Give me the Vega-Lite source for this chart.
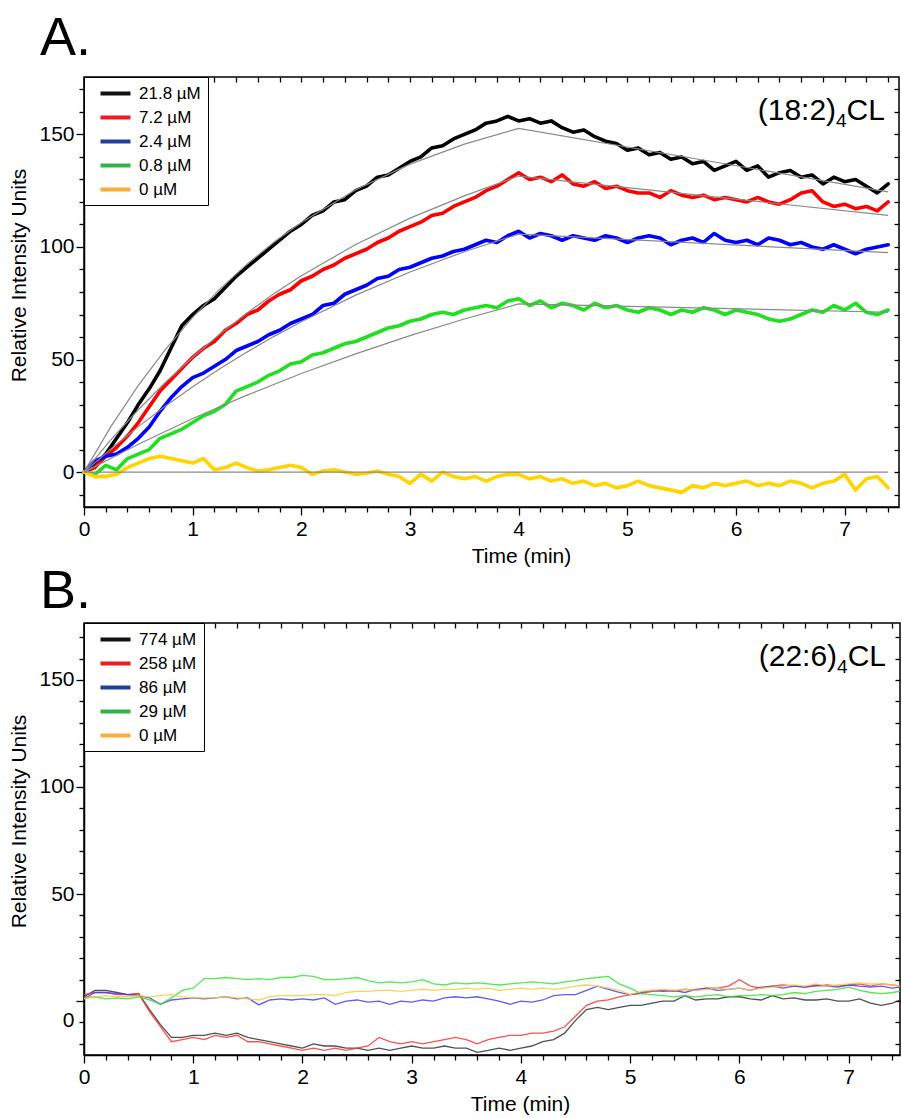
{
"$schema": "https://vega.github.io/schema/vega-lite/v6.json",
"background": "white",
"padding": {"left": 8, "top": 11, "right": 0, "bottom": 0},
"config": {
  "font": "Arial",
  "view": {"stroke": "black", "strokeWidth": 1.5},
  "axis": {"domainColor": "black", "domainWidth": 1.5, "tickColor": "black", "tickWidth": 1.3, "labelColor": "black", "labelFont": "Arial", "labelFontSize": 21, "titleFont": "Arial", "titleFontSize": 21, "titleFontWeight": "normal", "titleColor": "black", "grid": false, "labelOverlap": false, "labelFlush": false, "labelBound": false},
  "title": {"font": "Arial", "fontSize": 54, "fontWeight": "normal", "color": "black", "anchor": "start", "frame": "group", "dx": -44, "offset": 10}
},
"datasets": {
"a": [
{"s":"21.8","t":0,"v":0},{"s":"21.8","t":0.1,"v":3},{"s":"21.8","t":0.2,"v":8},{"s":"21.8","t":0.3,"v":15},{"s":"21.8","t":0.4,"v":22},{"s":"21.8","t":0.5,"v":30},{"s":"21.8","t":0.6,"v":37},{"s":"21.8","t":0.7,"v":45},{"s":"21.8","t":0.8,"v":55},{"s":"21.8","t":0.9,"v":65},
{"s":"21.8","t":1,"v":70},{"s":"21.8","t":1.1,"v":74},{"s":"21.8","t":1.2,"v":77},{"s":"21.8","t":1.3,"v":82},{"s":"21.8","t":1.4,"v":87},{"s":"21.8","t":1.5,"v":91},{"s":"21.8","t":1.6,"v":95},{"s":"21.8","t":1.7,"v":99},{"s":"21.8","t":1.8,"v":103},{"s":"21.8","t":1.9,"v":107},
{"s":"21.8","t":2,"v":110},{"s":"21.8","t":2.1,"v":114},{"s":"21.8","t":2.2,"v":116},{"s":"21.8","t":2.3,"v":120},{"s":"21.8","t":2.4,"v":121},{"s":"21.8","t":2.5,"v":125},{"s":"21.8","t":2.6,"v":127},{"s":"21.8","t":2.7,"v":131},{"s":"21.8","t":2.8,"v":132},{"s":"21.8","t":2.9,"v":135},
{"s":"21.8","t":3,"v":138},{"s":"21.8","t":3.1,"v":140},{"s":"21.8","t":3.2,"v":144},{"s":"21.8","t":3.3,"v":145},{"s":"21.8","t":3.4,"v":148},{"s":"21.8","t":3.5,"v":150},{"s":"21.8","t":3.6,"v":152},{"s":"21.8","t":3.7,"v":155},{"s":"21.8","t":3.8,"v":156},{"s":"21.8","t":3.9,"v":158},
{"s":"21.8","t":4,"v":156},{"s":"21.8","t":4.1,"v":157},{"s":"21.8","t":4.2,"v":155},{"s":"21.8","t":4.3,"v":156},{"s":"21.8","t":4.4,"v":153},{"s":"21.8","t":4.5,"v":151},{"s":"21.8","t":4.6,"v":152},{"s":"21.8","t":4.7,"v":149},{"s":"21.8","t":4.8,"v":147},{"s":"21.8","t":4.9,"v":146},
{"s":"21.8","t":5,"v":143},{"s":"21.8","t":5.1,"v":144},{"s":"21.8","t":5.2,"v":141},{"s":"21.8","t":5.3,"v":142},{"s":"21.8","t":5.4,"v":139},{"s":"21.8","t":5.5,"v":140},{"s":"21.8","t":5.6,"v":137},{"s":"21.8","t":5.7,"v":138},{"s":"21.8","t":5.8,"v":134},{"s":"21.8","t":5.9,"v":136},
{"s":"21.8","t":6,"v":138},{"s":"21.8","t":6.1,"v":134},{"s":"21.8","t":6.2,"v":136},{"s":"21.8","t":6.3,"v":131},{"s":"21.8","t":6.4,"v":133},{"s":"21.8","t":6.5,"v":134},{"s":"21.8","t":6.6,"v":131},{"s":"21.8","t":6.7,"v":132},{"s":"21.8","t":6.8,"v":128},{"s":"21.8","t":6.9,"v":131},
{"s":"21.8","t":7,"v":129},{"s":"21.8","t":7.1,"v":130},{"s":"21.8","t":7.2,"v":127},{"s":"21.8","t":7.3,"v":124},{"s":"21.8","t":7.4,"v":128},
{"s":"7.2","t":0,"v":0},{"s":"7.2","t":0.1,"v":2},{"s":"7.2","t":0.2,"v":7},{"s":"7.2","t":0.3,"v":11},{"s":"7.2","t":0.4,"v":16},{"s":"7.2","t":0.5,"v":22},{"s":"7.2","t":0.6,"v":29},{"s":"7.2","t":0.7,"v":36},{"s":"7.2","t":0.8,"v":41},{"s":"7.2","t":0.9,"v":46},
{"s":"7.2","t":1,"v":51},{"s":"7.2","t":1.1,"v":55},{"s":"7.2","t":1.2,"v":58},{"s":"7.2","t":1.3,"v":63},{"s":"7.2","t":1.4,"v":66},{"s":"7.2","t":1.5,"v":70},{"s":"7.2","t":1.6,"v":72},{"s":"7.2","t":1.7,"v":76},{"s":"7.2","t":1.8,"v":79},{"s":"7.2","t":1.9,"v":81},
{"s":"7.2","t":2,"v":85},{"s":"7.2","t":2.1,"v":87},{"s":"7.2","t":2.2,"v":90},{"s":"7.2","t":2.3,"v":92},{"s":"7.2","t":2.4,"v":95},{"s":"7.2","t":2.5,"v":97},{"s":"7.2","t":2.6,"v":99},{"s":"7.2","t":2.7,"v":102},{"s":"7.2","t":2.8,"v":104},{"s":"7.2","t":2.9,"v":107},
{"s":"7.2","t":3,"v":109},{"s":"7.2","t":3.1,"v":111},{"s":"7.2","t":3.2,"v":114},{"s":"7.2","t":3.3,"v":115},{"s":"7.2","t":3.4,"v":118},{"s":"7.2","t":3.5,"v":120},{"s":"7.2","t":3.6,"v":122},{"s":"7.2","t":3.7,"v":125},{"s":"7.2","t":3.8,"v":127},{"s":"7.2","t":3.9,"v":130},
{"s":"7.2","t":4,"v":133},{"s":"7.2","t":4.1,"v":130},{"s":"7.2","t":4.2,"v":131},{"s":"7.2","t":4.3,"v":129},{"s":"7.2","t":4.4,"v":132},{"s":"7.2","t":4.5,"v":128},{"s":"7.2","t":4.6,"v":127},{"s":"7.2","t":4.7,"v":129},{"s":"7.2","t":4.8,"v":126},{"s":"7.2","t":4.9,"v":127},
{"s":"7.2","t":5,"v":125},{"s":"7.2","t":5.1,"v":124},{"s":"7.2","t":5.2,"v":124},{"s":"7.2","t":5.3,"v":122},{"s":"7.2","t":5.4,"v":125},{"s":"7.2","t":5.5,"v":123},{"s":"7.2","t":5.6,"v":122},{"s":"7.2","t":5.7,"v":123},{"s":"7.2","t":5.8,"v":121},{"s":"7.2","t":5.9,"v":122},
{"s":"7.2","t":6,"v":121},{"s":"7.2","t":6.1,"v":120},{"s":"7.2","t":6.2,"v":122},{"s":"7.2","t":6.3,"v":120},{"s":"7.2","t":6.4,"v":119},{"s":"7.2","t":6.5,"v":121},{"s":"7.2","t":6.6,"v":124},{"s":"7.2","t":6.7,"v":125},{"s":"7.2","t":6.8,"v":120},{"s":"7.2","t":6.9,"v":118},
{"s":"7.2","t":7,"v":119},{"s":"7.2","t":7.1,"v":117},{"s":"7.2","t":7.2,"v":118},{"s":"7.2","t":7.3,"v":116},{"s":"7.2","t":7.4,"v":120},
{"s":"2.4","t":0,"v":0},{"s":"2.4","t":0.1,"v":5},{"s":"2.4","t":0.2,"v":7},{"s":"2.4","t":0.3,"v":8},{"s":"2.4","t":0.4,"v":11},{"s":"2.4","t":0.5,"v":15},{"s":"2.4","t":0.6,"v":20},{"s":"2.4","t":0.7,"v":27},{"s":"2.4","t":0.8,"v":33},{"s":"2.4","t":0.9,"v":38},
{"s":"2.4","t":1,"v":42},{"s":"2.4","t":1.1,"v":44},{"s":"2.4","t":1.2,"v":47},{"s":"2.4","t":1.3,"v":50},{"s":"2.4","t":1.4,"v":54},{"s":"2.4","t":1.5,"v":56},{"s":"2.4","t":1.6,"v":58},{"s":"2.4","t":1.7,"v":61},{"s":"2.4","t":1.8,"v":63},{"s":"2.4","t":1.9,"v":66},
{"s":"2.4","t":2,"v":68},{"s":"2.4","t":2.1,"v":70},{"s":"2.4","t":2.2,"v":74},{"s":"2.4","t":2.3,"v":75},{"s":"2.4","t":2.4,"v":79},{"s":"2.4","t":2.5,"v":81},{"s":"2.4","t":2.6,"v":83},{"s":"2.4","t":2.7,"v":86},{"s":"2.4","t":2.8,"v":87},{"s":"2.4","t":2.9,"v":90},
{"s":"2.4","t":3,"v":91},{"s":"2.4","t":3.1,"v":93},{"s":"2.4","t":3.2,"v":95},{"s":"2.4","t":3.3,"v":96},{"s":"2.4","t":3.4,"v":98},{"s":"2.4","t":3.5,"v":99},{"s":"2.4","t":3.6,"v":101},{"s":"2.4","t":3.7,"v":103},{"s":"2.4","t":3.8,"v":102},{"s":"2.4","t":3.9,"v":105},
{"s":"2.4","t":4,"v":107},{"s":"2.4","t":4.1,"v":104},{"s":"2.4","t":4.2,"v":106},{"s":"2.4","t":4.3,"v":105},{"s":"2.4","t":4.4,"v":103},{"s":"2.4","t":4.5,"v":105},{"s":"2.4","t":4.6,"v":104},{"s":"2.4","t":4.7,"v":103},{"s":"2.4","t":4.8,"v":105},{"s":"2.4","t":4.9,"v":104},
{"s":"2.4","t":5,"v":102},{"s":"2.4","t":5.1,"v":104},{"s":"2.4","t":5.2,"v":105},{"s":"2.4","t":5.3,"v":104},{"s":"2.4","t":5.4,"v":101},{"s":"2.4","t":5.5,"v":103},{"s":"2.4","t":5.6,"v":104},{"s":"2.4","t":5.7,"v":102},{"s":"2.4","t":5.8,"v":106},{"s":"2.4","t":5.9,"v":103},
{"s":"2.4","t":6,"v":102},{"s":"2.4","t":6.1,"v":103},{"s":"2.4","t":6.2,"v":101},{"s":"2.4","t":6.3,"v":104},{"s":"2.4","t":6.4,"v":103},{"s":"2.4","t":6.5,"v":101},{"s":"2.4","t":6.6,"v":102},{"s":"2.4","t":6.7,"v":100},{"s":"2.4","t":6.8,"v":99},{"s":"2.4","t":6.9,"v":101},
{"s":"2.4","t":7,"v":99},{"s":"2.4","t":7.1,"v":97},{"s":"2.4","t":7.2,"v":99},{"s":"2.4","t":7.3,"v":100},{"s":"2.4","t":7.4,"v":101},
{"s":"0.8","t":0,"v":0},{"s":"0.8","t":0.1,"v":-1},{"s":"0.8","t":0.2,"v":3},{"s":"0.8","t":0.3,"v":1},{"s":"0.8","t":0.4,"v":6},{"s":"0.8","t":0.5,"v":8},{"s":"0.8","t":0.6,"v":10},{"s":"0.8","t":0.7,"v":15},{"s":"0.8","t":0.8,"v":17},{"s":"0.8","t":0.9,"v":19},
{"s":"0.8","t":1,"v":22},{"s":"0.8","t":1.1,"v":25},{"s":"0.8","t":1.2,"v":27},{"s":"0.8","t":1.3,"v":30},{"s":"0.8","t":1.4,"v":36},{"s":"0.8","t":1.5,"v":38},{"s":"0.8","t":1.6,"v":40},{"s":"0.8","t":1.7,"v":43},{"s":"0.8","t":1.8,"v":45},{"s":"0.8","t":1.9,"v":48},
{"s":"0.8","t":2,"v":49},{"s":"0.8","t":2.1,"v":52},{"s":"0.8","t":2.2,"v":53},{"s":"0.8","t":2.3,"v":55},{"s":"0.8","t":2.4,"v":57},{"s":"0.8","t":2.5,"v":58},{"s":"0.8","t":2.6,"v":60},{"s":"0.8","t":2.7,"v":62},{"s":"0.8","t":2.8,"v":64},{"s":"0.8","t":2.9,"v":65},
{"s":"0.8","t":3,"v":67},{"s":"0.8","t":3.1,"v":68},{"s":"0.8","t":3.2,"v":70},{"s":"0.8","t":3.3,"v":71},{"s":"0.8","t":3.4,"v":70},{"s":"0.8","t":3.5,"v":72},{"s":"0.8","t":3.6,"v":73},{"s":"0.8","t":3.7,"v":74},{"s":"0.8","t":3.8,"v":73},{"s":"0.8","t":3.9,"v":76},
{"s":"0.8","t":4,"v":77},{"s":"0.8","t":4.1,"v":74},{"s":"0.8","t":4.2,"v":76},{"s":"0.8","t":4.3,"v":73},{"s":"0.8","t":4.4,"v":75},{"s":"0.8","t":4.5,"v":74},{"s":"0.8","t":4.6,"v":72},{"s":"0.8","t":4.7,"v":75},{"s":"0.8","t":4.8,"v":73},{"s":"0.8","t":4.9,"v":74},
{"s":"0.8","t":5,"v":72},{"s":"0.8","t":5.1,"v":71},{"s":"0.8","t":5.2,"v":73},{"s":"0.8","t":5.3,"v":72},{"s":"0.8","t":5.4,"v":70},{"s":"0.8","t":5.5,"v":72},{"s":"0.8","t":5.6,"v":71},{"s":"0.8","t":5.7,"v":73},{"s":"0.8","t":5.8,"v":72},{"s":"0.8","t":5.9,"v":70},
{"s":"0.8","t":6,"v":72},{"s":"0.8","t":6.1,"v":71},{"s":"0.8","t":6.2,"v":70},{"s":"0.8","t":6.3,"v":68},{"s":"0.8","t":6.4,"v":67},{"s":"0.8","t":6.5,"v":68},{"s":"0.8","t":6.6,"v":70},{"s":"0.8","t":6.7,"v":72},{"s":"0.8","t":6.8,"v":71},{"s":"0.8","t":6.9,"v":74},
{"s":"0.8","t":7,"v":72},{"s":"0.8","t":7.1,"v":75},{"s":"0.8","t":7.2,"v":71},{"s":"0.8","t":7.3,"v":70},{"s":"0.8","t":7.4,"v":72},
{"s":"0","t":0,"v":0},{"s":"0","t":0.1,"v":-2},{"s":"0","t":0.2,"v":-2},{"s":"0","t":0.3,"v":-1},{"s":"0","t":0.4,"v":2},{"s":"0","t":0.5,"v":4},{"s":"0","t":0.6,"v":6},{"s":"0","t":0.7,"v":7},{"s":"0","t":0.8,"v":6},{"s":"0","t":0.9,"v":5},
{"s":"0","t":1,"v":4},{"s":"0","t":1.1,"v":6},{"s":"0","t":1.2,"v":1},{"s":"0","t":1.3,"v":2},{"s":"0","t":1.4,"v":4},{"s":"0","t":1.5,"v":2},{"s":"0","t":1.6,"v":0.5},{"s":"0","t":1.7,"v":1},{"s":"0","t":1.8,"v":2},{"s":"0","t":1.9,"v":3},
{"s":"0","t":2,"v":2},{"s":"0","t":2.1,"v":-1},{"s":"0","t":2.2,"v":0.5},{"s":"0","t":2.3,"v":1},{"s":"0","t":2.4,"v":0},{"s":"0","t":2.5,"v":-1},{"s":"0","t":2.6,"v":-0.5},{"s":"0","t":2.7,"v":0.5},{"s":"0","t":2.8,"v":-1},{"s":"0","t":2.9,"v":-2},
{"s":"0","t":3,"v":-5},{"s":"0","t":3.1,"v":-1},{"s":"0","t":3.2,"v":-4},{"s":"0","t":3.3,"v":0},{"s":"0","t":3.4,"v":-2},{"s":"0","t":3.5,"v":-3},{"s":"0","t":3.6,"v":-2},{"s":"0","t":3.7,"v":-4},{"s":"0","t":3.8,"v":-2},{"s":"0","t":3.9,"v":-1},
{"s":"0","t":4,"v":-1},{"s":"0","t":4.1,"v":-3},{"s":"0","t":4.2,"v":-2},{"s":"0","t":4.3,"v":-4},{"s":"0","t":4.4,"v":-3},{"s":"0","t":4.5,"v":-5},{"s":"0","t":4.6,"v":-4},{"s":"0","t":4.7,"v":-6},{"s":"0","t":4.8,"v":-5},{"s":"0","t":4.9,"v":-7},
{"s":"0","t":5,"v":-6},{"s":"0","t":5.1,"v":-4},{"s":"0","t":5.2,"v":-6},{"s":"0","t":5.3,"v":-7},{"s":"0","t":5.4,"v":-8},{"s":"0","t":5.5,"v":-9},{"s":"0","t":5.6,"v":-6},{"s":"0","t":5.7,"v":-7},{"s":"0","t":5.8,"v":-5},{"s":"0","t":5.9,"v":-6},
{"s":"0","t":6,"v":-5},{"s":"0","t":6.1,"v":-4},{"s":"0","t":6.2,"v":-6},{"s":"0","t":6.3,"v":-5},{"s":"0","t":6.4,"v":-6},{"s":"0","t":6.5,"v":-4},{"s":"0","t":6.6,"v":-5},{"s":"0","t":6.7,"v":-7},{"s":"0","t":6.8,"v":-5},{"s":"0","t":6.9,"v":-4},
{"s":"0","t":7,"v":-1},{"s":"0","t":7.1,"v":-8},{"s":"0","t":7.2,"v":-3},{"s":"0","t":7.3,"v":-2},{"s":"0","t":7.4,"v":-7}
],
"af": [
{"s":"21.8","t":0,"v":0},{"s":"21.8","t":0.25,"v":20.4},{"s":"21.8","t":0.5,"v":38.5},{"s":"21.8","t":0.75,"v":54.5},{"s":"21.8","t":1,"v":68.7},{"s":"21.8","t":1.25,"v":81.3},{"s":"21.8","t":1.5,"v":92.4},{"s":"21.8","t":1.75,"v":102.2},{"s":"21.8","t":2,"v":110.9},{"s":"21.8","t":2.5,"v":125.4},{"s":"21.8","t":3,"v":136.8},{"s":"21.8","t":3.5,"v":145.7},{"s":"21.8","t":4,"v":152.7},{"s":"21.8","t":7.4,"v":124.5},
{"s":"7.2","t":0,"v":0},{"s":"7.2","t":0.25,"v":14.5},{"s":"7.2","t":0.5,"v":27.7},{"s":"7.2","t":0.75,"v":39.9},{"s":"7.2","t":1,"v":51},{"s":"7.2","t":1.25,"v":61.3},{"s":"7.2","t":1.5,"v":70.7},{"s":"7.2","t":1.75,"v":79.3},{"s":"7.2","t":2,"v":87.2},{"s":"7.2","t":2.5,"v":101.1},{"s":"7.2","t":3,"v":112.8},{"s":"7.2","t":3.5,"v":122.7},{"s":"7.2","t":4,"v":131.5},{"s":"7.2","t":7.4,"v":114},
{"s":"2.4","t":0,"v":0},{"s":"2.4","t":0.25,"v":10.4},{"s":"2.4","t":0.5,"v":20.2},{"s":"2.4","t":0.75,"v":29.4},{"s":"2.4","t":1,"v":37.9},{"s":"2.4","t":1.25,"v":45.9},{"s":"2.4","t":1.5,"v":53.3},{"s":"2.4","t":1.75,"v":60.3},{"s":"2.4","t":2,"v":66.8},{"s":"2.4","t":2.5,"v":78.6},{"s":"2.4","t":3,"v":88.9},{"s":"2.4","t":3.5,"v":97.9},{"s":"2.4","t":4,"v":105.7},{"s":"2.4","t":7.4,"v":97.5},
{"s":"0.8","t":0,"v":0},{"s":"0.8","t":0.5,"v":12.4},{"s":"0.8","t":1,"v":23.8},{"s":"0.8","t":1.5,"v":34.2},{"s":"0.8","t":2,"v":43.8},{"s":"0.8","t":2.5,"v":52.5},{"s":"0.8","t":3,"v":60.6},{"s":"0.8","t":3.5,"v":68},{"s":"0.8","t":4,"v":74.7},{"s":"0.8","t":7.4,"v":71},
{"s":"zero","t":0,"v":0},{"s":"zero","t":7.4,"v":0}
],
"b": [
{"s":"774","t":0,"v":2},{"s":"774","t":0.1,"v":5},{"s":"774","t":0.2,"v":5},{"s":"774","t":0.3,"v":4},{"s":"774","t":0.4,"v":3},{"s":"774","t":0.5,"v":3.5},{"s":"774","t":0.6,"v":-4},{"s":"774","t":0.7,"v":-11},{"s":"774","t":0.8,"v":-17},{"s":"774","t":0.9,"v":-17},
{"s":"774","t":1,"v":-16},{"s":"774","t":1.1,"v":-16},{"s":"774","t":1.2,"v":-15},{"s":"774","t":1.3,"v":-16},{"s":"774","t":1.4,"v":-15},{"s":"774","t":1.5,"v":-17},{"s":"774","t":1.6,"v":-18},{"s":"774","t":1.7,"v":-19},{"s":"774","t":1.8,"v":-20},{"s":"774","t":1.9,"v":-21},
{"s":"774","t":2,"v":-22},{"s":"774","t":2.1,"v":-20},{"s":"774","t":2.2,"v":-21},{"s":"774","t":2.3,"v":-21},{"s":"774","t":2.4,"v":-22},{"s":"774","t":2.5,"v":-22},{"s":"774","t":2.6,"v":-23},{"s":"774","t":2.7,"v":-22},{"s":"774","t":2.8,"v":-23},{"s":"774","t":2.9,"v":-22},
{"s":"774","t":3,"v":-21},{"s":"774","t":3.1,"v":-22},{"s":"774","t":3.2,"v":-22},{"s":"774","t":3.3,"v":-21},{"s":"774","t":3.4,"v":-22},{"s":"774","t":3.5,"v":-22},{"s":"774","t":3.6,"v":-24},{"s":"774","t":3.7,"v":-23},{"s":"774","t":3.8,"v":-22},{"s":"774","t":3.9,"v":-23},
{"s":"774","t":4,"v":-22},{"s":"774","t":4.1,"v":-21},{"s":"774","t":4.2,"v":-19},{"s":"774","t":4.3,"v":-18},{"s":"774","t":4.4,"v":-15},{"s":"774","t":4.5,"v":-9},{"s":"774","t":4.6,"v":-4},{"s":"774","t":4.7,"v":-3},{"s":"774","t":4.8,"v":-4},{"s":"774","t":4.9,"v":-3},
{"s":"774","t":5,"v":-2},{"s":"774","t":5.1,"v":-2},{"s":"774","t":5.2,"v":-1},{"s":"774","t":5.3,"v":0},{"s":"774","t":5.4,"v":0},{"s":"774","t":5.5,"v":2.5},{"s":"774","t":5.6,"v":0.5},{"s":"774","t":5.7,"v":1},{"s":"774","t":5.8,"v":1},{"s":"774","t":5.9,"v":2},
{"s":"774","t":6,"v":2},{"s":"774","t":6.1,"v":1},{"s":"774","t":6.2,"v":0.5},{"s":"774","t":6.3,"v":2.5},{"s":"774","t":6.4,"v":1},{"s":"774","t":6.5,"v":1.5},{"s":"774","t":6.6,"v":0.5},{"s":"774","t":6.7,"v":0.5},{"s":"774","t":6.8,"v":1},{"s":"774","t":6.9,"v":0},
{"s":"774","t":7,"v":0},{"s":"774","t":7.1,"v":1},{"s":"774","t":7.2,"v":-1},{"s":"774","t":7.3,"v":-2},{"s":"774","t":7.4,"v":-1},{"s":"774","t":7.47,"v":0.5},
{"s":"258","t":0,"v":3},{"s":"258","t":0.1,"v":4},{"s":"258","t":0.2,"v":4},{"s":"258","t":0.3,"v":3},{"s":"258","t":0.4,"v":3},{"s":"258","t":0.5,"v":3.5},{"s":"258","t":0.6,"v":-5},{"s":"258","t":0.7,"v":-12},{"s":"258","t":0.8,"v":-19},{"s":"258","t":0.9,"v":-18},
{"s":"258","t":1,"v":-17},{"s":"258","t":1.1,"v":-18},{"s":"258","t":1.2,"v":-16},{"s":"258","t":1.3,"v":-17},{"s":"258","t":1.4,"v":-16},{"s":"258","t":1.5,"v":-19},{"s":"258","t":1.6,"v":-19},{"s":"258","t":1.7,"v":-20},{"s":"258","t":1.8,"v":-21},{"s":"258","t":1.9,"v":-22},
{"s":"258","t":2,"v":-23},{"s":"258","t":2.1,"v":-22},{"s":"258","t":2.2,"v":-23},{"s":"258","t":2.3,"v":-22},{"s":"258","t":2.4,"v":-23},{"s":"258","t":2.5,"v":-22},{"s":"258","t":2.6,"v":-21},{"s":"258","t":2.7,"v":-17},{"s":"258","t":2.8,"v":-19},{"s":"258","t":2.9,"v":-20},
{"s":"258","t":3,"v":-19},{"s":"258","t":3.1,"v":-20},{"s":"258","t":3.2,"v":-19},{"s":"258","t":3.3,"v":-18},{"s":"258","t":3.4,"v":-17},{"s":"258","t":3.5,"v":-18},{"s":"258","t":3.6,"v":-20},{"s":"258","t":3.7,"v":-18},{"s":"258","t":3.8,"v":-17},{"s":"258","t":3.9,"v":-16},
{"s":"258","t":4,"v":-16},{"s":"258","t":4.1,"v":-15},{"s":"258","t":4.2,"v":-15},{"s":"258","t":4.3,"v":-14},{"s":"258","t":4.4,"v":-12},{"s":"258","t":4.5,"v":-7},{"s":"258","t":4.6,"v":-2},{"s":"258","t":4.7,"v":0},{"s":"258","t":4.8,"v":0.5},{"s":"258","t":4.9,"v":2},
{"s":"258","t":5,"v":3},{"s":"258","t":5.1,"v":3.5},{"s":"258","t":5.2,"v":4.5},{"s":"258","t":5.3,"v":5},{"s":"258","t":5.4,"v":4.5},{"s":"258","t":5.5,"v":5.5},{"s":"258","t":5.6,"v":5},{"s":"258","t":5.7,"v":6},{"s":"258","t":5.8,"v":6},{"s":"258","t":5.9,"v":7},
{"s":"258","t":6,"v":10},{"s":"258","t":6.1,"v":7},{"s":"258","t":6.2,"v":6},{"s":"258","t":6.3,"v":7},{"s":"258","t":6.4,"v":7.5},{"s":"258","t":6.5,"v":7},{"s":"258","t":6.6,"v":6.5},{"s":"258","t":6.7,"v":7},{"s":"258","t":6.8,"v":7.5},{"s":"258","t":6.9,"v":7},
{"s":"258","t":7,"v":7.5},{"s":"258","t":7.1,"v":8},{"s":"258","t":7.2,"v":7},{"s":"258","t":7.3,"v":8},{"s":"258","t":7.4,"v":7.5},{"s":"258","t":7.47,"v":7},
{"s":"86","t":0,"v":1},{"s":"86","t":0.1,"v":4},{"s":"86","t":0.2,"v":4},{"s":"86","t":0.3,"v":3.5},{"s":"86","t":0.4,"v":3},{"s":"86","t":0.5,"v":2.5},{"s":"86","t":0.6,"v":1.5},{"s":"86","t":0.7,"v":-1.5},{"s":"86","t":0.8,"v":0.5},{"s":"86","t":0.9,"v":1},
{"s":"86","t":1,"v":1.5},{"s":"86","t":1.1,"v":1},{"s":"86","t":1.2,"v":1.5},{"s":"86","t":1.3,"v":2},{"s":"86","t":1.4,"v":1},{"s":"86","t":1.5,"v":1.5},{"s":"86","t":1.6,"v":-1.8},{"s":"86","t":1.7,"v":0.5},{"s":"86","t":1.8,"v":1},{"s":"86","t":1.9,"v":0.5},
{"s":"86","t":2,"v":1},{"s":"86","t":2.1,"v":0.5},{"s":"86","t":2.2,"v":1.5},{"s":"86","t":2.3,"v":-1.5},{"s":"86","t":2.4,"v":0},{"s":"86","t":2.5,"v":0.5},{"s":"86","t":2.6,"v":-0.5},{"s":"86","t":2.7,"v":0},{"s":"86","t":2.8,"v":-1.5},{"s":"86","t":2.9,"v":0},
{"s":"86","t":3,"v":-0.5},{"s":"86","t":3.1,"v":0.5},{"s":"86","t":3.2,"v":0},{"s":"86","t":3.3,"v":1.5},{"s":"86","t":3.4,"v":2},{"s":"86","t":3.5,"v":1.5},{"s":"86","t":3.6,"v":2},{"s":"86","t":3.7,"v":1},{"s":"86","t":3.8,"v":0},{"s":"86","t":3.9,"v":-1.5},
{"s":"86","t":4,"v":0},{"s":"86","t":4.1,"v":-0.5},{"s":"86","t":4.2,"v":0.5},{"s":"86","t":4.3,"v":2.5},{"s":"86","t":4.4,"v":3},{"s":"86","t":4.5,"v":3},{"s":"86","t":4.6,"v":5},{"s":"86","t":4.7,"v":7},{"s":"86","t":4.8,"v":5.5},{"s":"86","t":4.9,"v":4},
{"s":"86","t":5,"v":3},{"s":"86","t":5.1,"v":4},{"s":"86","t":5.2,"v":5},{"s":"86","t":5.3,"v":4.5},{"s":"86","t":5.4,"v":5},{"s":"86","t":5.5,"v":4},{"s":"86","t":5.6,"v":5.5},{"s":"86","t":5.7,"v":6},{"s":"86","t":5.8,"v":5},{"s":"86","t":5.9,"v":5.5},
{"s":"86","t":6,"v":6},{"s":"86","t":6.1,"v":5},{"s":"86","t":6.2,"v":6.5},{"s":"86","t":6.3,"v":7},{"s":"86","t":6.4,"v":6},{"s":"86","t":6.5,"v":7},{"s":"86","t":6.6,"v":6.5},{"s":"86","t":6.7,"v":7.5},{"s":"86","t":6.8,"v":7},{"s":"86","t":6.9,"v":6.5},
{"s":"86","t":7,"v":7.5},{"s":"86","t":7.1,"v":7},{"s":"86","t":7.2,"v":6.5},{"s":"86","t":7.3,"v":7},{"s":"86","t":7.4,"v":6},{"s":"86","t":7.47,"v":6.5},
{"s":"29","t":0,"v":1.5},{"s":"29","t":0.1,"v":2},{"s":"29","t":0.2,"v":1},{"s":"29","t":0.3,"v":1.5},{"s":"29","t":0.4,"v":1},{"s":"29","t":0.5,"v":2},{"s":"29","t":0.6,"v":0.5},{"s":"29","t":0.7,"v":-1.5},{"s":"29","t":0.8,"v":1.5},{"s":"29","t":0.9,"v":5},
{"s":"29","t":1,"v":6},{"s":"29","t":1.1,"v":10.5},{"s":"29","t":1.2,"v":10.5},{"s":"29","t":1.3,"v":11},{"s":"29","t":1.4,"v":10.5},{"s":"29","t":1.5,"v":10},{"s":"29","t":1.6,"v":10.5},{"s":"29","t":1.7,"v":10},{"s":"29","t":1.8,"v":11},{"s":"29","t":1.9,"v":11},
{"s":"29","t":2,"v":12},{"s":"29","t":2.1,"v":11.5},{"s":"29","t":2.2,"v":10},{"s":"29","t":2.3,"v":10},{"s":"29","t":2.4,"v":10.5},{"s":"29","t":2.5,"v":11},{"s":"29","t":2.6,"v":9.5},{"s":"29","t":2.7,"v":8.5},{"s":"29","t":2.8,"v":9},{"s":"29","t":2.9,"v":8.5},
{"s":"29","t":3,"v":9},{"s":"29","t":3.1,"v":10},{"s":"29","t":3.2,"v":8},{"s":"29","t":3.3,"v":7.5},{"s":"29","t":3.4,"v":8.5},{"s":"29","t":3.5,"v":8},{"s":"29","t":3.6,"v":8.5},{"s":"29","t":3.7,"v":8},{"s":"29","t":3.8,"v":7.5},{"s":"29","t":3.9,"v":8},
{"s":"29","t":4,"v":8.5},{"s":"29","t":4.1,"v":9},{"s":"29","t":4.2,"v":8.5},{"s":"29","t":4.3,"v":8},{"s":"29","t":4.4,"v":9},{"s":"29","t":4.5,"v":9.5},{"s":"29","t":4.6,"v":10.5},{"s":"29","t":4.7,"v":11},{"s":"29","t":4.8,"v":11.5},{"s":"29","t":4.9,"v":8},
{"s":"29","t":5,"v":6},{"s":"29","t":5.1,"v":3.5},{"s":"29","t":5.2,"v":3},{"s":"29","t":5.3,"v":2.5},{"s":"29","t":5.4,"v":2},{"s":"29","t":5.5,"v":2.5},{"s":"29","t":5.6,"v":2},{"s":"29","t":5.7,"v":2.5},{"s":"29","t":5.8,"v":3},{"s":"29","t":5.9,"v":2},
{"s":"29","t":6,"v":2.5},{"s":"29","t":6.1,"v":2.5},{"s":"29","t":6.2,"v":3},{"s":"29","t":6.3,"v":2.5},{"s":"29","t":6.4,"v":3},{"s":"29","t":6.5,"v":4},{"s":"29","t":6.6,"v":3.5},{"s":"29","t":6.7,"v":4.5},{"s":"29","t":6.8,"v":5},{"s":"29","t":6.9,"v":5.5},
{"s":"29","t":7,"v":6.5},{"s":"29","t":7.1,"v":5},{"s":"29","t":7.2,"v":4},{"s":"29","t":7.3,"v":3.5},{"s":"29","t":7.4,"v":4},{"s":"29","t":7.47,"v":4.5},
{"s":"0","t":0,"v":1},{"s":"0","t":0.1,"v":2},{"s":"0","t":0.2,"v":2.5},{"s":"0","t":0.3,"v":2},{"s":"0","t":0.4,"v":2},{"s":"0","t":0.5,"v":2.5},{"s":"0","t":0.6,"v":2},{"s":"0","t":0.7,"v":2.5},{"s":"0","t":0.8,"v":3},{"s":"0","t":0.9,"v":2},
{"s":"0","t":1,"v":1.5},{"s":"0","t":1.1,"v":1.5},{"s":"0","t":1.2,"v":1.5},{"s":"0","t":1.3,"v":2},{"s":"0","t":1.4,"v":1.5},{"s":"0","t":1.5,"v":1},{"s":"0","t":1.6,"v":0.5},{"s":"0","t":1.7,"v":2},{"s":"0","t":1.8,"v":2.5},{"s":"0","t":1.9,"v":2.5},
{"s":"0","t":2,"v":2.5},{"s":"0","t":2.1,"v":3},{"s":"0","t":2.2,"v":3},{"s":"0","t":2.3,"v":2.5},{"s":"0","t":2.4,"v":4},{"s":"0","t":2.5,"v":4.5},{"s":"0","t":2.6,"v":4.5},{"s":"0","t":2.7,"v":5},{"s":"0","t":2.8,"v":5},{"s":"0","t":2.9,"v":4.5},
{"s":"0","t":3,"v":5},{"s":"0","t":3.1,"v":5.5},{"s":"0","t":3.2,"v":5},{"s":"0","t":3.3,"v":5.5},{"s":"0","t":3.4,"v":5.5},{"s":"0","t":3.5,"v":6},{"s":"0","t":3.6,"v":5.5},{"s":"0","t":3.7,"v":6},{"s":"0","t":3.8,"v":5},{"s":"0","t":3.9,"v":5.5},
{"s":"0","t":4,"v":6},{"s":"0","t":4.1,"v":5.5},{"s":"0","t":4.2,"v":6},{"s":"0","t":4.3,"v":5.5},{"s":"0","t":4.4,"v":6},{"s":"0","t":4.5,"v":7},{"s":"0","t":4.6,"v":7.5},{"s":"0","t":4.7,"v":7},{"s":"0","t":4.8,"v":6},{"s":"0","t":4.9,"v":5},
{"s":"0","t":5,"v":3},{"s":"0","t":5.1,"v":4.5},{"s":"0","t":5.2,"v":5},{"s":"0","t":5.3,"v":5.5},{"s":"0","t":5.4,"v":5},{"s":"0","t":5.5,"v":5.5},{"s":"0","t":5.6,"v":5},{"s":"0","t":5.7,"v":5.5},{"s":"0","t":5.8,"v":6},{"s":"0","t":5.9,"v":5.5},
{"s":"0","t":6,"v":6},{"s":"0","t":6.1,"v":5},{"s":"0","t":6.2,"v":6},{"s":"0","t":6.3,"v":6.5},{"s":"0","t":6.4,"v":7},{"s":"0","t":6.5,"v":7.5},{"s":"0","t":6.6,"v":7},{"s":"0","t":6.7,"v":8},{"s":"0","t":6.8,"v":7},{"s":"0","t":6.9,"v":7.5},
{"s":"0","t":7,"v":8},{"s":"0","t":7.1,"v":8.5},{"s":"0","t":7.2,"v":8},{"s":"0","t":7.3,"v":8},{"s":"0","t":7.4,"v":7.5},{"s":"0","t":7.47,"v":7}
]
},
"spacing": -3,
"vconcat": [
{
  "title": {"text": "A."},
  "width": 815,
  "height": 430,
  "layer": [
    {
      "data": {"name": "a"},
      "mark": {"type": "line", "strokeWidth": 3.6, "strokeJoin": "round", "strokeCap": "round"},
      "encoding": {
        "x": {"field": "t", "type": "quantitative", "scale": {"domain": [0, 7.5], "nice": false, "zero": false},
              "axis": {"orient": "bottom", "values": [0,1,2,3,4,5,6,7], "format": "d", "tickSize": 8, "title": "Time (min)", "titleX": 437, "labelPadding": 3, "titlePadding": 6}},
        "y": {"field": "v", "type": "quantitative", "scale": {"domain": [-15.5, 175.5], "nice": false, "zero": false},
              "axis": {"orient": "left", "values": [0,50,100,150], "format": "d", "tickSize": 8, "title": "Relative Intensity Units", "titleY": 198, "labelPadding": 2, "titlePadding": 9}},
        "color": {"field": "s", "type": "nominal", "scale": {"domain": ["21.8", "7.2", "2.4", "0.8", "0"], "range": ["#000000", "#ff0000", "#0000ff", "#1fe01f", "#ffd400"]}, "legend": null}
      }
    },
    {
      "data": {"name": "af"},
      "mark": {"type": "line", "color": "#8a8a8a", "strokeWidth": 1.2},
      "encoding": {
        "x": {"field": "t", "type": "quantitative", "axis": {"orient": "top", "values": [0,0.2,0.4,0.6,0.8,1,1.2,1.4,1.6,1.8,2,2.2,2.4,2.6,2.8,3,3.2,3.4,3.6,3.8,4,4.2,4.4,4.6,4.8,5,5.2,5.4,5.6,5.8,6,6.2,6.4,6.6,6.8,7,7.2,7.4], "labels": false, "title": null, "domain": false, "tickSize": -5}},
        "y": {"field": "v", "type": "quantitative", "axis": {"orient": "right", "values": [-10,0,10,20,30,40,50,60,70,80,90,100,110,120,130,140,150,160,170], "labels": false, "title": null, "domain": false, "tickSize": -5}},
        "detail": {"field": "s", "type": "nominal"}
      }
    },
    {
      "data": {"name": "a"},
      "transform": [{"filter": "false"}],
      "mark": {"type": "line"},
      "encoding": {
        "x": {"field": "t", "type": "quantitative", "axis": {"orient": "bottom", "values": [0.2,0.4,0.6,0.8,1.2,1.4,1.6,1.8,2.2,2.4,2.6,2.8,3.2,3.4,3.6,3.8,4.2,4.4,4.6,4.8,5.2,5.4,5.6,5.8,6.2,6.4,6.6,6.8,7.2,7.4], "labels": false, "title": null, "domain": false, "tickSize": 5}},
        "y": {"field": "v", "type": "quantitative", "axis": {"orient": "left", "values": [-10,10,20,30,40,60,70,80,90,110,120,130,140,160,170], "labels": false, "title": null, "domain": false, "tickSize": 5}},
        "color": {"field": "s", "type": "nominal", "scale": {"domain": ["21.8", "7.2", "2.4", "0.8", "0"], "range": ["#111111", "#ec1c24", "#223f98", "#33b24a", "#fbad3c"]},
          "legend": {"title": null, "orient": "top-left", "offset": 0, "strokeColor": "black", "fillColor": "white", "padding": 7, "symbolType": "M0,0H4", "symbolSize": 225, "symbolStrokeWidth": 4, "symbolOpacity": 1, "labelFontSize": 17, "labelFont": "Arial", "labelColor": "black", "labelOffset": 29, "rowPadding": 6, "labelExpr": "datum.label + ' µM'"}}
      }
    },
    {
      "data": {"values": [{}]},
      "mark": {"type": "text", "text": "(18:2)", "align": "right", "baseline": "alphabetic", "fontSize": 30, "font": "Arial", "color": "black"},
      "encoding": {
        "x": {"datum": 6.921, "type": "quantitative", "axis": null},
        "y": {"datum": 156.4, "type": "quantitative", "axis": null}
      }
    },
    {
      "data": {"values": [{}]},
      "mark": {"type": "text", "text": "4", "align": "right", "baseline": "alphabetic", "fontSize": 19, "font": "Arial", "color": "black", "dy": 7},
      "encoding": {
        "x": {"datum": 7.018, "type": "quantitative", "axis": null},
        "y": {"datum": 156.4, "type": "quantitative", "axis": null}
      }
    },
    {
      "data": {"values": [{}]},
      "mark": {"type": "text", "text": "CL", "align": "right", "baseline": "alphabetic", "fontSize": 30, "font": "Arial", "color": "black"},
      "encoding": {
        "x": {"datum": 7.37, "type": "quantitative", "axis": null},
        "y": {"datum": 156.4, "type": "quantitative", "axis": null}
      }
    }
  ],
  "resolve": {"scale": {"color": "independent"}, "axis": {"x": "independent", "y": "independent"}, "legend": {"color": "independent"}}
},
{
  "title": {"text": "B.", "offset": 3},
  "width": 816,
  "height": 432,
  "layer": [
    {
      "data": {"name": "b"},
      "mark": {"type": "line", "strokeWidth": 1.3, "opacity": 0.85},
      "encoding": {
        "x": {"field": "t", "type": "quantitative", "scale": {"domain": [0, 7.47], "nice": false, "zero": false},
              "axis": {"orient": "bottom", "values": [0,1,2,3,4,5,6,7], "format": "d", "tickSize": 8, "title": "Time (min)", "titleX": 436, "labelPadding": 3, "titlePadding": 6}},
        "y": {"field": "v", "type": "quantitative", "scale": {"domain": [-25.2, 176.6], "nice": false, "zero": false},
              "axis": {"orient": "left", "values": [0,50,100,150], "format": "d", "tickSize": 8, "labelOffset": {"condition": {"test": "datum.value === 0", "value": 19}, "value": 0}, "title": "Relative Intensity Units", "titleY": 198, "labelPadding": 2, "titlePadding": 9}},
        "color": {"field": "s", "type": "nominal", "scale": {"domain": ["774", "258", "86", "29", "0"], "range": ["#333333", "#ff3030", "#4040ff", "#30e830", "#ffc83c"]}, "legend": null}
      }
    },
    {
      "data": {"name": "b"},
      "transform": [{"filter": "false"}],
      "mark": {"type": "line"},
      "encoding": {
        "x": {"field": "t", "type": "quantitative", "axis": {"orient": "top", "values": [0,0.2,0.4,0.6,0.8,1,1.2,1.4,1.6,1.8,2,2.2,2.4,2.6,2.8,3,3.2,3.4,3.6,3.8,4,4.2,4.4,4.6,4.8,5,5.2,5.4,5.6,5.8,6,6.2,6.4,6.6,6.8,7,7.2,7.4], "labels": false, "title": null, "domain": false, "tickSize": -5}},
        "y": {"field": "v", "type": "quantitative", "axis": {"orient": "right", "values": [-20,-10,0,10,20,30,40,50,60,70,80,90,100,110,120,130,140,150,160,170], "labels": false, "title": null, "domain": false, "tickSize": -5}},
        "color": {"field": "s", "type": "nominal", "scale": {"domain": ["774", "258", "86", "29", "0"], "range": ["#111111", "#ec1c24", "#223f98", "#33b24a", "#fbad3c"]},
          "legend": {"title": null, "orient": "top-left", "offset": 0, "strokeColor": "black", "fillColor": "white", "padding": 7, "symbolType": "M0,0H4", "symbolSize": 225, "symbolStrokeWidth": 4, "symbolOpacity": 1, "labelFontSize": 17, "labelFont": "Arial", "labelColor": "black", "labelOffset": 29, "rowPadding": 6, "labelExpr": "datum.label + ' µM'"}}
      }
    },
    {
      "data": {"name": "b"},
      "transform": [{"filter": "false"}],
      "mark": {"type": "line"},
      "encoding": {
        "x": {"field": "t", "type": "quantitative", "axis": {"orient": "bottom", "values": [0.2,0.4,0.6,0.8,1.2,1.4,1.6,1.8,2.2,2.4,2.6,2.8,3.2,3.4,3.6,3.8,4.2,4.4,4.6,4.8,5.2,5.4,5.6,5.8,6.2,6.4,6.6,6.8,7.2,7.4], "labels": false, "title": null, "domain": false, "tickSize": 5}},
        "y": {"field": "v", "type": "quantitative", "axis": {"orient": "left", "values": [-20,-10,10,20,30,40,60,70,80,90,110,120,130,140,160,170], "labels": false, "title": null, "domain": false, "tickSize": 5}}
      }
    },
    {
      "data": {"values": [{}]},
      "mark": {"type": "text", "text": "(22:6)", "align": "right", "baseline": "alphabetic", "fontSize": 30, "font": "Arial", "color": "black"},
      "encoding": {
        "x": {"datum": 6.894, "type": "quantitative", "axis": null},
        "y": {"datum": 156.5, "type": "quantitative", "axis": null}
      }
    },
    {
      "data": {"values": [{}]},
      "mark": {"type": "text", "text": "4", "align": "right", "baseline": "alphabetic", "fontSize": 19, "font": "Arial", "color": "black", "dy": 7},
      "encoding": {
        "x": {"datum": 6.991, "type": "quantitative", "axis": null},
        "y": {"datum": 156.5, "type": "quantitative", "axis": null}
      }
    },
    {
      "data": {"values": [{}]},
      "mark": {"type": "text", "text": "CL", "align": "right", "baseline": "alphabetic", "fontSize": 30, "font": "Arial", "color": "black"},
      "encoding": {
        "x": {"datum": 7.342, "type": "quantitative", "axis": null},
        "y": {"datum": 156.5, "type": "quantitative", "axis": null}
      }
    }
  ],
  "resolve": {"scale": {"color": "independent"}, "axis": {"x": "independent", "y": "independent"}, "legend": {"color": "independent"}}
}
]
}
